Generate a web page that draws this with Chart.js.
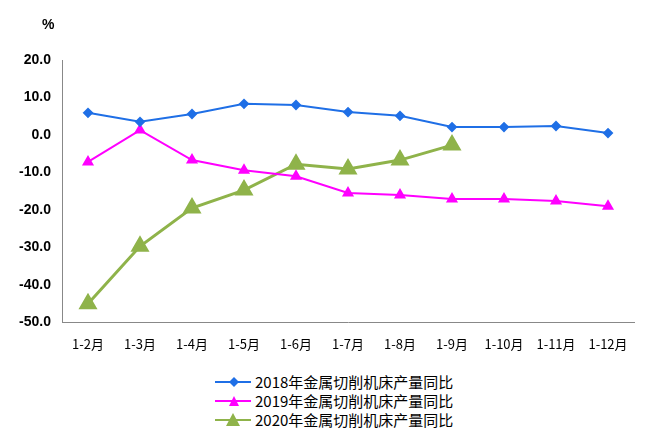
<!DOCTYPE html>
<html><head><meta charset="utf-8">
<script src="https://cdn.jsdelivr.net/npm/chart.js@4"></script>
<style>
body{margin:0;background:#fff;font-family:"Noto Sans CJK SC","Liberation Sans",sans-serif;}
#wrap{position:relative;width:660px;height:445px;}
#c{position:absolute;left:0;top:0;}
#pct{position:absolute;left:42px;top:16px;font:bold 14px "Liberation Sans",sans-serif;}
#leg{position:absolute;left:215px;top:372px;font-size:15px;line-height:19px;color:#000;}
.li{display:flex;align-items:center;height:19px;}
.ln{position:relative;width:36px;height:2px;margin-right:4px;}
.mk{position:absolute;left:14px;top:-4px;}
</style></head><body>
<div id="wrap"><canvas id="c" width="660" height="366"></canvas><div id="pct">%</div>
<div id="leg"></div></div>
<script>
const categories=["1-2月","1-3月","1-4月","1-5月","1-6月","1-7月","1-8月","1-9月","1-10月","1-11月","1-12月"];
const s2018=[5.9,3.5,5.6,8.3,8.0,6.1,5.1,2.1,2.1,2.4,0.5];
const s2019=[-7.2,1.3,-6.7,-9.4,-11.0,-15.5,-16.0,-17.1,-17.1,-17.6,-19.0];
const s2020=[-45.0,-29.7,-19.5,-14.7,-7.8,-9.1,-6.7,-2.7,null,null,null];
const names=["2018年金属切削机床产量同比","2019年金属切削机床产量同比","2020年金属切削机床产量同比"];
const cols=["#1f6fe6","#ff00ff","#8fb34a"];
new Chart(document.getElementById('c'),{type:'line',
data:{labels:categories,datasets:[
{label:names[0],data:s2018,borderColor:cols[0],backgroundColor:cols[0],borderWidth:2,pointStyle:'rectRot',pointRadius:4},
{label:names[1],data:s2019,borderColor:cols[1],backgroundColor:cols[1],borderWidth:2,pointStyle:'triangle',pointRadius:5},
{label:names[2],data:s2020,borderColor:cols[2],backgroundColor:cols[2],borderWidth:3,pointStyle:'triangle',pointRadius:8}]},
options:{responsive:false,animation:false,layout:{padding:{left:0,right:26,top:60,bottom:0}},
plugins:{legend:{display:false},tooltip:{enabled:false}},
scales:{x:{offset:true,grid:{display:false,drawTicks:false},border:{color:'#888'},ticks:{color:'#000',padding:14,font:{size:13,family:'"Noto Sans CJK SC"'}}},
y:{min:-50,max:20,afterFit:a=>{a.width=62},grid:{display:false},border:{color:'#888'},ticks:{stepSize:10,color:'#000',font:{size:14,weight:'bold',family:'"Liberation Sans"'},callback:v=>v.toFixed(1)}}}}});
const leg=document.getElementById('leg');
const mk=["<svg class='mk' width='10' height='10'><polygon points='5,0 10,5 5,10 0,5' fill='"+cols[0]+"'/></svg>",
"<svg class='mk' width='10' height='10'><polygon points='5,0 10,10 0,10' fill='"+cols[1]+"'/></svg>",
"<svg class='mk' style='left:11px;top:-6px' width='14' height='13'><polygon points='7,0 14,13 0,13' fill='"+cols[2]+"'/></svg>"];
names.forEach((n,i)=>{leg.innerHTML+="<div class='li'><div class='ln' style='background:"+cols[i]+"'>"+mk[i]+"</div>"+n+"</div>";});
</script></body></html>
